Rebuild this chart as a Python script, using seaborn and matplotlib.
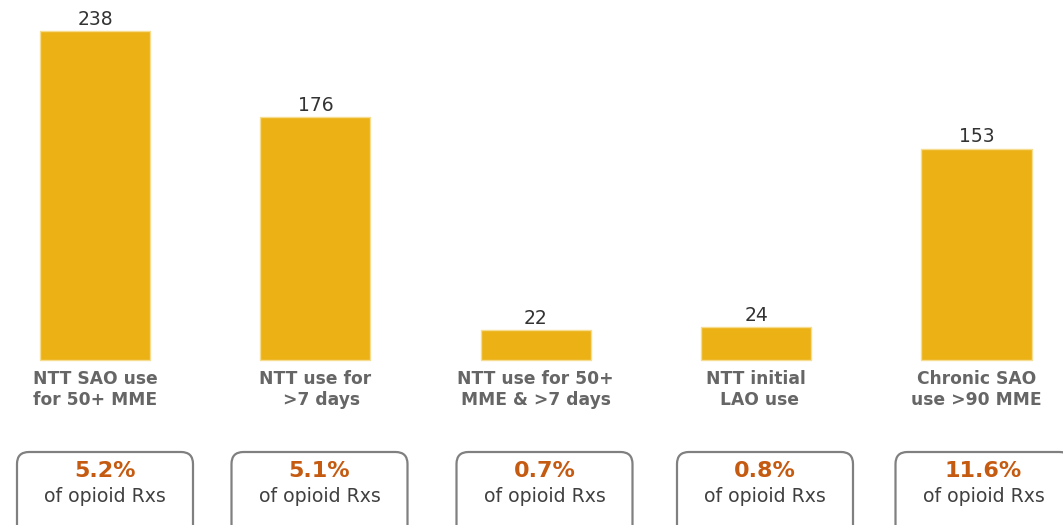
import matplotlib
matplotlib.use("Agg")
import matplotlib.pyplot as plt
import seaborn as sns
import pandas as pd
from matplotlib.patches import FancyBboxPatch

categories = ["NTT SAO use\nfor 50+ MME", "NTT use for\n  >7 days", "NTT use for 50+\nMME & >7 days",
              "NTT initial\n LAO use", "Chronic SAO\nuse >90 MME"]
values = [238, 176, 22, 24, 153]
pct_of_rxs = [5.2, 5.1, 0.7, 0.8, 11.6]
pct_caption = "of opioid Rxs"

BAR_COLOR = "#EBB115"
EDGE_COLOR = "#F6DC8E"
LABEL_GRAY = "#666666"
PCT_COLOR = "#C55A11"
TEXT_DARK = "#404040"

W, H = 1063, 525
fig = plt.figure(figsize=(W / 100, H / 100), dpi=100)
ax = fig.add_axes([0, 0, 1, 1])

df = pd.DataFrame({"cat": categories, "val": values})
sns.barplot(data=df, x="cat", y="val", color=BAR_COLOR, width=0.5, ax=ax,
            edgecolor=EDGE_COLOR, linewidth=1, saturation=1)

# axis scaling (pixel layout)
x0_px, step_px = 95, 220.375
y0_px, py_per_unit = 360, 1.382
ax.set_xlim(-x0_px / step_px, (W - x0_px) / step_px)
ax.set_ylim(-(H - y0_px) / py_per_unit, y0_px / py_per_unit)
ax.axis("off")

ax.bar_label(ax.containers[0], labels=[str(v) for v in values], padding=1.5,
             fontsize=13.5, color="#333333")

for i, cat in enumerate(categories):
    ax.annotate(cat, xy=(i, 0), xytext=(0, -7.5), textcoords="offset points",
                ha="center", va="top", multialignment="center",
                fontsize=12.3, fontweight="bold", color=LABEL_GRAY, linespacing=1.22)

# summary boxes
box_centers_px = [105, 319.5, 544.5, 765, 983.5]
box_w, box_top = 176, 452
for cx, p in zip(box_centers_px, pct_of_rxs):
    left = (cx - box_w / 2) / 100
    bottom = -20 / 100
    height = (H - box_top + 20) / 100
    patch = FancyBboxPatch((left, bottom), box_w / 100, height,
                           boxstyle="round,pad=0,rounding_size=0.12",
                           transform=fig.dpi_scale_trans, facecolor="white",
                           edgecolor="#808080", linewidth=1.6)
    fig.patches.append(patch)
    fig.text(cx / W, 1 - 471 / H, f"{p}%", ha="center", va="center",
             fontsize=16, fontweight="bold", color=PCT_COLOR)
    fig.text(cx / W, 1 - 497 / H, pct_caption, ha="center", va="center",
             fontsize=13.6, color=TEXT_DARK)

fig.savefig("out.png", dpi=100, facecolor="white")
